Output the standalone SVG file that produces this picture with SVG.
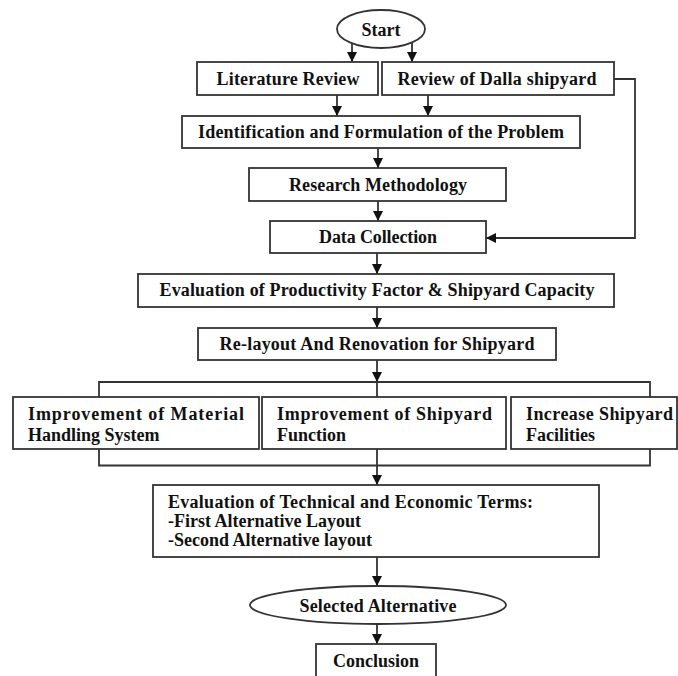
<svg xmlns="http://www.w3.org/2000/svg" width="678" height="676" viewBox="0 0 678 676">
<style>
.box{fill:#fff;stroke:#333;stroke-width:1.8}
.ln{fill:none;stroke:#333;stroke-width:1.8}
text{font-family:"Liberation Serif","Times New Roman",serif;font-weight:bold;font-size:18px;fill:#111}
.c{text-anchor:middle}
</style>
<defs>
<marker id="ah" markerUnits="userSpaceOnUse" markerWidth="10" markerHeight="11" refX="10" refY="5" orient="auto" viewBox="0 0 10 10">
<path d="M0,0 L10,5 L0,10 z" fill="#111"/>
</marker>
</defs>
<rect width="678" height="676" fill="#fff"/>
<g id="connectors">
<line class="ln" x1="352" y1="43" x2="352" y2="62" marker-end="url(#ah)"/>
<line class="ln" x1="412" y1="43" x2="412" y2="62" marker-end="url(#ah)"/>
<line class="ln" x1="337" y1="95" x2="337" y2="116" marker-end="url(#ah)"/>
<line class="ln" x1="428" y1="95" x2="428" y2="116" marker-end="url(#ah)"/>
<polyline class="ln" points="614,79 635,79 635,238 486,238" marker-end="url(#ah)"/>
<line class="ln" x1="378" y1="148" x2="378" y2="168" marker-end="url(#ah)"/>
<line class="ln" x1="378" y1="201" x2="378" y2="221" marker-end="url(#ah)"/>
<line class="ln" x1="377" y1="253" x2="377" y2="274" marker-end="url(#ah)"/>
<line class="ln" x1="377" y1="307" x2="377" y2="328" marker-end="url(#ah)"/>
<line class="ln" x1="377" y1="360" x2="377" y2="382" marker-end="url(#ah)"/>
<polyline class="ln" points="99,397 99,382 650,382 650,397"/>
<line class="ln" x1="377" y1="382" x2="377" y2="397"/>
<polyline class="ln" points="99,449 99,465.5 650,465.5 650,449"/>
<line class="ln" x1="377" y1="449" x2="377" y2="485" marker-end="url(#ah)"/>
<line class="ln" x1="377" y1="557" x2="377" y2="586" marker-end="url(#ah)"/>
<line class="ln" x1="377" y1="624" x2="377" y2="644" marker-end="url(#ah)"/>
</g>
<g id="start">
<ellipse class="box" cx="381" cy="29" rx="44" ry="19"/>
<text class="c" x="381" y="36">Start</text>
</g>
<g id="literature">
<rect class="box" x="197" y="62" width="181" height="33"/>
<text class="c" x="288" y="85" textLength="143" lengthAdjust="spacing">Literature Review</text>
</g>
<g id="dalla">
<rect class="box" x="382" y="62" width="232" height="33"/>
<text class="c" x="497" y="85" textLength="199" lengthAdjust="spacing">Review of Dalla shipyard</text>
</g>
<g id="identification">
<rect class="box" x="182" y="116" width="398" height="32"/>
<text class="c" x="381" y="138" textLength="366" lengthAdjust="spacing">Identification and Formulation of the Problem</text>
</g>
<g id="research">
<rect class="box" x="249" y="168" width="257" height="33"/>
<text class="c" x="378" y="191" textLength="178" lengthAdjust="spacing">Research Methodology</text>
</g>
<g id="data">
<rect class="box" x="270" y="221" width="216" height="32"/>
<text class="c" x="378" y="243" textLength="118" lengthAdjust="spacing">Data Collection</text>
</g>
<g id="productivity">
<rect class="box" x="138" y="274" width="476" height="33"/>
<text class="c" x="377" y="296" textLength="435" lengthAdjust="spacing">Evaluation of Productivity Factor &amp; Shipyard Capacity</text>
</g>
<g id="relayout">
<rect class="box" x="198" y="328" width="358" height="32"/>
<text class="c" x="377" y="350" textLength="315" lengthAdjust="spacing">Re-layout And Renovation for Shipyard</text>
</g>
<g id="material">
<rect class="box" x="13" y="397" width="246" height="52"/>
<text x="28" y="420" textLength="216" lengthAdjust="spacing">Improvement of Material</text>
<text x="28" y="441">Handling System</text>
</g>
<g id="function">
<rect class="box" x="262" y="397" width="244" height="52"/>
<text x="277" y="420" textLength="215" lengthAdjust="spacing">Improvement of Shipyard</text>
<text x="277" y="441">Function</text>
</g>
<g id="facilities">
<rect class="box" x="511" y="397" width="166" height="52"/>
<text x="526" y="420" textLength="147" lengthAdjust="spacing">Increase Shipyard</text>
<text x="526" y="441">Facilities</text>
</g>
<g id="technical">
<rect class="box" x="153" y="485" width="446" height="72"/>
<text x="168" y="508" textLength="365" lengthAdjust="spacing">Evaluation of Technical and Economic Terms:</text>
<text x="168" y="527">-First Alternative Layout</text>
<text x="168" y="546">-Second Alternative layout</text>
</g>
<g id="selected">
<ellipse class="box" cx="378" cy="605" rx="128" ry="19"/>
<text class="c" x="378" y="612" textLength="157" lengthAdjust="spacing">Selected Alternative</text>
</g>
<g id="conclusion">
<rect class="box" x="316" y="644" width="120" height="40"/>
<text class="c" x="376" y="667">Conclusion</text>
</g>
</svg>
